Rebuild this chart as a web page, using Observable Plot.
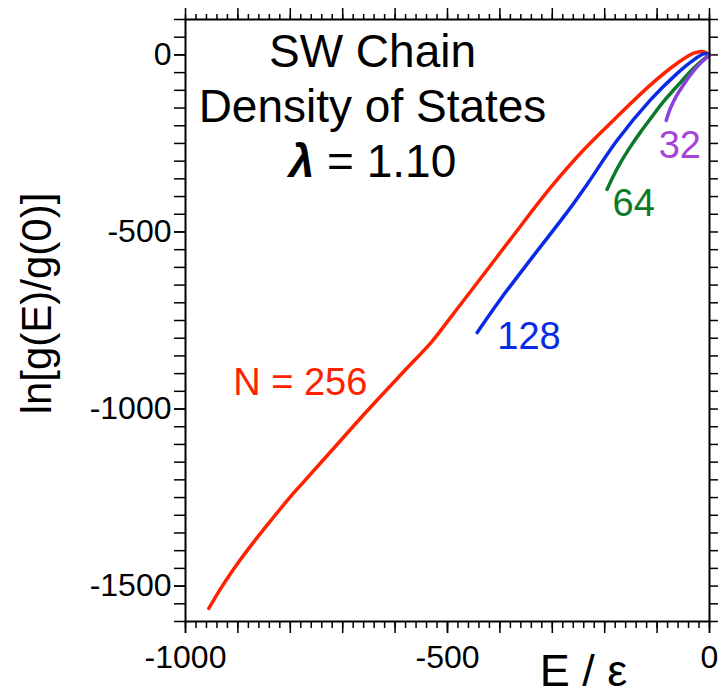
<!DOCTYPE html>
<html>
<head>
<meta charset="utf-8">
<script src="https://cdn.jsdelivr.net/npm/d3@7"></script>
<script src="https://cdn.jsdelivr.net/npm/@observablehq/plot@0.6"></script>
<style>
  html, body { margin: 0; padding: 0; background: #fff; }
</style>
</head>
<body>
<div id="chart"></div>
<script>
// ---- data ----
const seriesNames = ["256", "128", "64", "32"];
const seriesColors = ["#ff2200", "#0a2be6", "#0b7a2b", "#8a3fe0"];

const e256 = [-955.5,-935,-910,-880,-841,-800,-777,-713.7,-650,-586.5,-529,-494,-456,-380,-303.4,-240,-176,-112.6,-61.6,-30,-11,0];
const g256 = [-1563,-1512,-1456,-1395,-1322,-1248,-1210,-1105,-1000,-899,-808,-741,-668,-521,-375,-268,-174,-84.5,-23.5,5,9,0];

const e128 = [-443.3,-398.9,-335.3,-271.6,-233.4,-176.2,-112.6,-61.6,-30,-11,0];
const g128 = [-784,-690,-566,-444,-365,-241,-127,-52,-14,3,0];

const e64 = [-195.6,-183.2,-169.8,-150.8,-131.7,-112.6,-87.8,-55.3,-30.5,-11.5,0];
const g64 = [-380,-341,-304,-259,-218,-180,-132,-77.5,-38,-12.7,0];

const e32 = [-82.7,-74.4,-63,-49.6,-36.3,-22.9,-11.5,0];
const g32 = [-185,-150,-115.5,-84.5,-56.3,-32.4,-15.5,0];

const curveLabels = ["N = 256", "128", "64", "32"];
const labelE = [-909, -405, -185, -97];
const labelG = [-961, -831, -456, -290];
const labelColors = ["#ff2200", "#0a2be6", "#0b7a2b", "#a545d8"];

const xLabelTicks = [-1000, -500, 0];
const yLabelTicks = [0, -500, -1000, -1500];
const titleText = "SW Chain\nDensity of States\nλ = 1.10";
const xTitle = "E / ε";
const yTitle = "ln[g(E)/g(0)]";

// ---- build tables ----
const allE = [e256, e128, e64, e32];
const allG = [g256, g128, g64, g32];
const rows = [];
seriesNames.forEach((n, k) => {
  allE[k].forEach((e, i) => rows.push({N: n, E: e, G: allG[k][i]}));
});
const labelRows = curveLabels.map((t, i) => ({t, E: labelE[i], G: labelG[i], c: labelColors[i]}));

const xMinor = d3.range(-1000, 1, 20);
const xMajor = d3.range(-1000, 1, 100);
const yMinor = d3.range(-1600, 101, 50);
const blank = () => "";

const font = "'Liberation Sans', Arial, sans-serif";

const chart = Plot.plot({
  width: 719,
  height: 696,
  marginLeft: 185,
  marginRight: 10,
  marginTop: 19,
  marginBottom: 75,
  style: {fontFamily: font, background: "white", color: "black"},
  x: {domain: [-1000, 0]},
  y: {domain: [-1600, 100]},
  color: {domain: seriesNames, range: seriesColors},
  marks: [
    // bottom ticks
    Plot.axisX(xMinor, {anchor: "bottom", tickSize: 7, tickFormat: blank, label: null, strokeWidth: 1.5}),
    Plot.axisX(xMajor, {anchor: "bottom", tickSize: 12, tickFormat: blank, label: null, strokeWidth: 1.5}),
    Plot.axisX(xLabelTicks, {anchor: "bottom", tickSize: 12, tickPadding: 12, fontSize: 32, tickFormat: d => String(d), label: null, strokeWidth: 1.5}),
    // top ticks
    Plot.axisX(xMinor, {anchor: "top", tickSize: 6, tickFormat: blank, label: null, strokeWidth: 1.5}),
    Plot.axisX(xMajor, {anchor: "top", tickSize: 12, tickFormat: blank, label: null, strokeWidth: 1.5}),
    // left ticks
    Plot.axisY(yMinor, {anchor: "left", tickSize: 11, tickFormat: blank, label: null, strokeWidth: 1.5}),
    Plot.axisY(yLabelTicks, {anchor: "left", tickSize: 11, tickPadding: 3, fontSize: 32, tickFormat: d => String(d), label: null, strokeWidth: 1.5}),
    // right ticks
    Plot.axisY(yMinor, {anchor: "right", tickSize: 8, tickFormat: blank, label: null, strokeWidth: 1.5}),
    // curves
    Plot.line(rows, {x: "E", y: "G", z: "N", stroke: "N", strokeWidth: 3.5, curve: "catmull-rom"}),
    // frame
    Plot.frame({stroke: "black", strokeWidth: 2}),
    // curve labels
    Plot.text(labelRows, {x: "E", y: "G", text: "t", fill: "c", fontSize: 38, textAnchor: "start", lineAnchor: "bottom"}),
    // title block
    Plot.text([titleText], {text: d => d, frameAnchor: "top", textAnchor: "middle", dx: -75, dy: 8, lineAnchor: "top", fontSize: 46, lineHeight: 1.2, fill: "black"}),
    // axis titles
    Plot.text([xTitle], {text: d => d, frameAnchor: "bottom", textAnchor: "middle", dx: 136, dy: 64, lineAnchor: "bottom", fontSize: 45, fill: "black"}),
    Plot.text([yTitle], {text: d => d, frameAnchor: "left", textAnchor: "middle", dx: -148, dy: -17, rotate: -90, lineAnchor: "middle", fontSize: 42, fill: "black"})
  ]
});

// italic bold lambda
d3.select(chart).selectAll("tspan").filter(function () { return this.textContent.startsWith("λ"); })
  .each(function () {
    const t = d3.select(this);
    const rest = this.textContent.slice(1);
    t.text("");
    t.append("tspan").attr("font-style", "italic").attr("font-weight", "bold").text("λ");
    t.append("tspan").text(rest);
  });

document.getElementById("chart").appendChild(chart);
</script>
</body>
</html>
